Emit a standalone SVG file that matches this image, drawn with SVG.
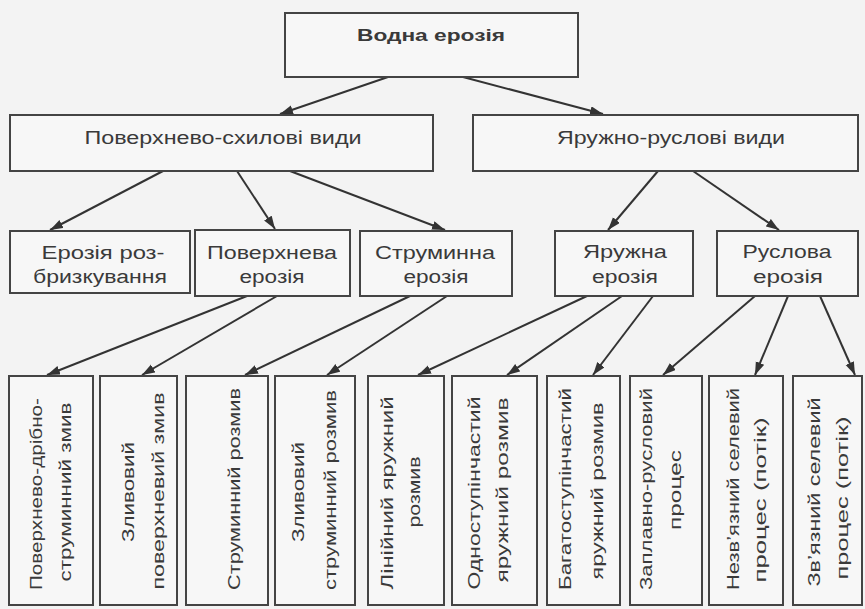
<svg xmlns="http://www.w3.org/2000/svg" width="865" height="609" viewBox="0 0 865 609">
<defs>
<marker id="ah" markerUnits="userSpaceOnUse" markerWidth="14" markerHeight="10" refX="13" refY="4.5" orient="auto">
<path d="M0,0 L13,4.5 L0,9 z" fill="#333"/>
</marker>
<style>
.box{fill:#f7f7f7;stroke:#444;stroke-width:2}
.t{font-family:"Liberation Sans",Arial,sans-serif;font-size:18px;fill:#3a3a3a;text-anchor:middle}
.v{font-family:"Liberation Sans",Arial,sans-serif;font-size:17px;fill:#3a3a3a;text-anchor:middle}
.b{font-weight:bold;font-size:17px}
.c{stroke:#333;stroke-width:2;fill:none;marker-end:url(#ah)}
</style>
</defs>
<rect width="865" height="609" fill="#f3f3f3"/>
<g id="connectors">
<line class="c" x1="388" y1="77" x2="280" y2="114"/>
<line class="c" x1="463" y1="77" x2="603" y2="114"/>
<line class="c" x1="163" y1="171" x2="50" y2="230"/>
<line class="c" x1="237" y1="171" x2="275" y2="229"/>
<line class="c" x1="290" y1="171" x2="445" y2="230"/>
<line class="c" x1="658" y1="171" x2="608" y2="230"/>
<line class="c" x1="693" y1="171" x2="779" y2="230"/>
<line class="c" x1="247" y1="296" x2="47" y2="375"/>
<line class="c" x1="277" y1="296" x2="142" y2="375"/>
<line class="c" x1="410" y1="296" x2="245" y2="375"/>
<line class="c" x1="447" y1="296" x2="327" y2="375"/>
<line class="c" x1="587" y1="296" x2="418" y2="375"/>
<line class="c" x1="622" y1="296" x2="507" y2="375"/>
<line class="c" x1="653" y1="296" x2="593" y2="375"/>
<line class="c" x1="755" y1="296" x2="663" y2="375"/>
<line class="c" x1="788" y1="296" x2="755" y2="375"/>
<line class="c" x1="820" y1="296" x2="855" y2="375"/>
</g>
<g id="n_root"><rect class="box" x="285" y="13" width="293" height="64"/><text class="t b" x="431" y="41" textLength="148" lengthAdjust="spacingAndGlyphs">Водна ерозія</text></g>
<g id="n_surf"><rect class="box" x="10" y="115" width="423" height="56"/><text class="t" x="223" y="144" textLength="277" lengthAdjust="spacingAndGlyphs">Поверхнево-схилові види</text></g>
<g id="n_gully"><rect class="box" x="473" y="115" width="385" height="56"/><text class="t" x="671" y="144" textLength="228" lengthAdjust="spacingAndGlyphs">Яружно-руслові види</text></g>
<g id="n_splash"><rect class="box" x="10" y="231" width="180" height="62"/><text class="t" x="103" y="259" textLength="123" lengthAdjust="spacingAndGlyphs">Ерозія роз-</text><text class="t" x="100" y="283" textLength="134" lengthAdjust="spacingAndGlyphs">бризкування</text></g>
<g id="n_sheet"><rect class="box" x="195" y="230" width="155" height="66"/><text class="t" x="272" y="259" textLength="130" lengthAdjust="spacingAndGlyphs">Поверхнева</text><text class="t" x="272" y="283" textLength="65" lengthAdjust="spacingAndGlyphs">ерозія</text></g>
<g id="n_rill"><rect class="box" x="360" y="231" width="152" height="65"/><text class="t" x="435" y="259" textLength="120" lengthAdjust="spacingAndGlyphs">Струминна</text><text class="t" x="436" y="283" textLength="65" lengthAdjust="spacingAndGlyphs">ерозія</text></g>
<g id="n_ravine"><rect class="box" x="555" y="231" width="138" height="65"/><text class="t" x="625" y="258" textLength="84" lengthAdjust="spacingAndGlyphs">Яружна</text><text class="t" x="625" y="283" textLength="66" lengthAdjust="spacingAndGlyphs">ерозія</text></g>
<g id="n_channel"><rect class="box" x="717" y="231" width="141" height="65"/><text class="t" x="787" y="258" textLength="89" lengthAdjust="spacingAndGlyphs">Руслова</text><text class="t" x="788" y="283" textLength="70" lengthAdjust="spacingAndGlyphs">ерозія</text></g>
<g id="n_l1"><rect class="box" x="9" y="376" width="84" height="229"/><text class="v" x="42" y="494" transform="rotate(-90 42 494)" textLength="192" lengthAdjust="spacingAndGlyphs">Поверхнево-дрібно-</text><text class="v" x="71" y="492" transform="rotate(-90 71 492)" textLength="179" lengthAdjust="spacingAndGlyphs">струминний змив</text></g>
<g id="n_l2"><rect class="box" x="100" y="376" width="77" height="229"/><text class="v" x="134" y="492" transform="rotate(-90 134 492)" textLength="100" lengthAdjust="spacingAndGlyphs">Зливовий</text><text class="v" x="164" y="491" transform="rotate(-90 164 491)" textLength="197" lengthAdjust="spacingAndGlyphs">поверхневий змив</text></g>
<g id="n_l3"><rect class="box" x="186" y="376" width="82" height="229"/><text class="v" x="240" y="489" transform="rotate(-90 240 489)" textLength="202" lengthAdjust="spacingAndGlyphs">Струминний розмив</text></g>
<g id="n_l4"><rect class="box" x="275" y="376" width="80" height="229"/><text class="v" x="304" y="492" transform="rotate(-90 304 492)" textLength="100" lengthAdjust="spacingAndGlyphs">Зливовий</text><text class="v" x="336" y="490" transform="rotate(-90 336 490)" textLength="200" lengthAdjust="spacingAndGlyphs">струминний розмив</text></g>
<g id="n_l5"><rect class="box" x="368" y="376" width="76" height="229"/><text class="v" x="393" y="493" transform="rotate(-90 393 493)" textLength="193" lengthAdjust="spacingAndGlyphs">Лінійний яружний</text><text class="v" x="420" y="492" transform="rotate(-90 420 492)" textLength="71" lengthAdjust="spacingAndGlyphs">розмив</text></g>
<g id="n_l6"><rect class="box" x="452" y="376" width="85" height="229"/><text class="v" x="480" y="493" transform="rotate(-90 480 493)" textLength="193" lengthAdjust="spacingAndGlyphs">Одноступінчастий</text><text class="v" x="508" y="490" transform="rotate(-90 508 490)" textLength="185" lengthAdjust="spacingAndGlyphs">яружний розмив</text></g>
<g id="n_l7"><rect class="box" x="547" y="376" width="73" height="229"/><text class="v" x="571" y="489" transform="rotate(-90 571 489)" textLength="202" lengthAdjust="spacingAndGlyphs">Багатоступінчастий</text><text class="v" x="603" y="491" transform="rotate(-90 603 491)" textLength="177" lengthAdjust="spacingAndGlyphs">яружний розмив</text></g>
<g id="n_l8"><rect class="box" x="630" y="376" width="72" height="229"/><text class="v" x="652" y="489" transform="rotate(-90 652 489)" textLength="202" lengthAdjust="spacingAndGlyphs">Заплавно-русловий</text><text class="v" x="681" y="490" transform="rotate(-90 681 490)" textLength="80" lengthAdjust="spacingAndGlyphs">процес</text></g>
<g id="n_l9"><rect class="box" x="709" y="376" width="74" height="229"/><text class="v" x="739" y="489" transform="rotate(-90 739 489)" textLength="202" lengthAdjust="spacingAndGlyphs">Незв’язний селевий</text><text class="v" x="766" y="500" transform="rotate(-90 766 500)" textLength="165" lengthAdjust="spacingAndGlyphs">процес (потік)</text></g>
<g id="n_l10"><rect class="box" x="793" y="376" width="69" height="229"/><text class="v" x="820" y="492" transform="rotate(-90 820 492)" textLength="189" lengthAdjust="spacingAndGlyphs">Зв’язний селевий</text><text class="v" x="848" y="498" transform="rotate(-90 848 498)" textLength="163" lengthAdjust="spacingAndGlyphs">процес (потік)</text></g>
</svg>
